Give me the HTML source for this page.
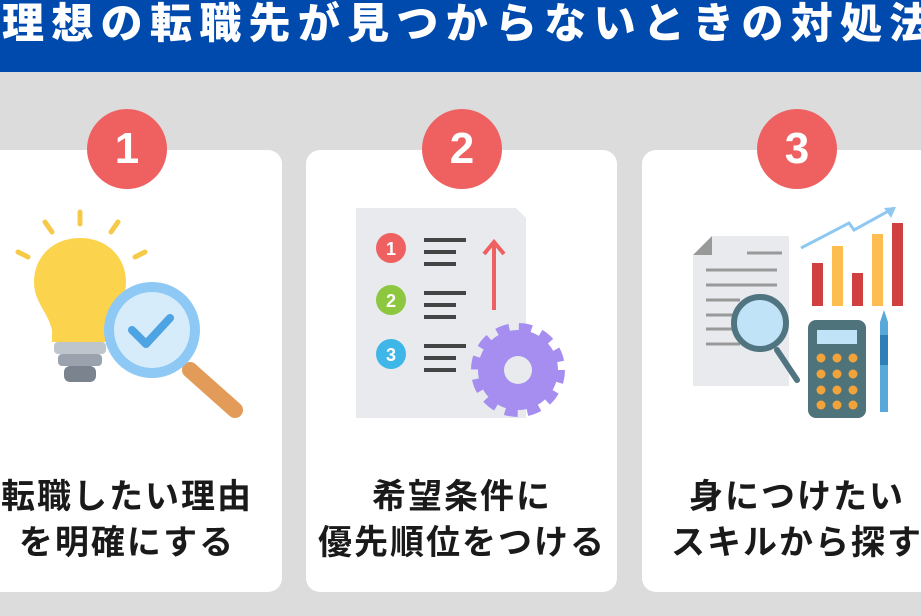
<!DOCTYPE html>
<html><head><meta charset="utf-8"><style>
body{margin:0;width:921px;height:616px;overflow:hidden;background:#dcdcdc;position:relative;font-family:"Liberation Sans","Noto Sans CJK JP",sans-serif}
.hd{position:absolute;left:0;top:0;width:921px;height:72px;background:#004aad}
.tt{position:absolute;left:2px;top:-6px;white-space:nowrap;color:#fff;font-weight:900;font-size:42px;letter-spacing:7.3px;line-height:60px}
.card{position:absolute;top:150px;height:442px;background:#fff;border-radius:14px}
.num{position:absolute;top:109px;width:80px;height:80px;border-radius:50%;background:#ef6061;color:#fff;font-weight:bold;font-size:44px;text-align:center;line-height:80px}
.lb{position:absolute;top:474px;width:360px;text-align:center;font-weight:bold;font-size:34px;line-height:46px;color:#1a1a1a;letter-spacing:2px;white-space:nowrap}
svg{position:absolute}
</style></head><body>
<div class="hd"><div class="tt">理想の転職先が見つからないときの対処法</div></div>
<div class="card" style="left:-20px;width:302px"></div>
<div class="card" style="left:306px;width:311px"></div>
<div class="card" style="left:642px;width:300px"></div>
<div class="num" style="left:87px">1</div>
<div class="num" style="left:422px">2</div>
<div class="num" style="left:757px">3</div>

<svg style="left:0;top:200px" width="282" height="230">
 <g stroke="#f7c948" stroke-width="5" stroke-linecap="round">
  <line x1="80" y1="12" x2="80" y2="24"/><line x1="45" y1="22" x2="52" y2="32"/><line x1="118" y1="22" x2="111" y2="32"/>
  <line x1="18" y1="52" x2="28" y2="57"/><line x1="145" y1="52" x2="135" y2="57"/></g>
 <path d="M80 38c-28 0-46 20-46 44 0 20 14 30 18 48v12h56v-12c4-18 18-28 18-48 0-24-18-44-46-44z" fill="#fcd34d"/>
 <rect x="54" y="142" width="52" height="12" rx="4" fill="#bfc5cc"/><rect x="58" y="154" width="44" height="12" rx="4" fill="#9aa3ad"/><rect x="64" y="166" width="32" height="16" rx="6" fill="#7b848e"/>
 <line x1="190" y1="170" x2="235" y2="210" stroke="#e39b5a" stroke-width="16" stroke-linecap="round"/>
 <circle cx="152" cy="130" r="48" fill="#8ec8f5"/><circle cx="152" cy="130" r="38" fill="#d6ecfb"/>
 <path d="M132 130l14 14 24-26" fill="none" stroke="#4ea3e3" stroke-width="8" stroke-linecap="round" stroke-linejoin="round"/>
</svg>

<svg style="left:306px;top:200px" width="311" height="230">
 <path d="M50 8h160l10 10v200H50z" fill="#e8eaee"/>
 <circle cx="85" cy="48" r="15" fill="#ef6061"/><circle cx="85" cy="100" r="15" fill="#8dc63f"/><circle cx="85" cy="154" r="15" fill="#3fb6e8"/>
 <g fill="#fff" font-weight="bold" font-size="18" text-anchor="middle" font-family="Liberation Sans"><text x="85" y="55">1</text><text x="85" y="107">2</text><text x="85" y="161">3</text></g>
 <g stroke="#444" stroke-width="4"><line x1="118" y1="40" x2="160" y2="40"/><line x1="118" y1="52" x2="150" y2="52"/><line x1="118" y1="64" x2="150" y2="64"/>
 <line x1="118" y1="93" x2="160" y2="93"/><line x1="118" y1="105" x2="150" y2="105"/><line x1="118" y1="117" x2="150" y2="117"/>
 <line x1="118" y1="146" x2="160" y2="146"/><line x1="118" y1="158" x2="150" y2="158"/><line x1="118" y1="170" x2="150" y2="170"/></g>
 <path d="M188 110V42m-10 12l10-12 10 12" stroke="#ef6061" stroke-width="4" fill="none"/>
 <circle cx="212" cy="170" r="40" fill="#a58ef0" stroke="#a58ef0" stroke-width="14" stroke-dasharray="12 9"/><circle cx="212" cy="170" r="14" fill="#e8eaee"/>
</svg>

<svg style="left:640px;top:200px" width="281" height="230">
 <path d="M72 36h77v150H53V55z" fill="#e8eaee"/><path d="M53 55l19-19v19z" fill="#999"/>
 <g stroke="#999" stroke-width="3"><line x1="107" y1="53" x2="142" y2="53"/><line x1="66" y1="70" x2="137" y2="70"/><line x1="66" y1="85" x2="137" y2="85"/><line x1="66" y1="100" x2="100" y2="100"/><line x1="66" y1="115" x2="100" y2="115"/><line x1="66" y1="129" x2="100" y2="129"/><line x1="66" y1="144" x2="100" y2="144"/></g>
 <line x1="137" y1="150" x2="157" y2="180" stroke="#507580" stroke-width="6" stroke-linecap="round"/>
 <circle cx="120" cy="123" r="26" fill="#c0e3f7" stroke="#507580" stroke-width="6"/>
 <path d="M161 48l48-25 5 7 40-22" stroke="#8ec8f0" stroke-width="3" fill="none"/><path d="M244 8l12-1-5 11z" fill="#8ec8f0"/>
 <rect x="172" y="63" width="11" height="43" fill="#d04040"/><rect x="192" y="46" width="11" height="60" fill="#fdbd50"/><rect x="212" y="73" width="11" height="33" fill="#d04040"/><rect x="232" y="34" width="11" height="72" fill="#fdbd50"/><rect x="252" y="23" width="11" height="83" fill="#d04040"/>
 <rect x="168" y="120" width="58" height="98" rx="8" fill="#4f737b"/><rect x="177" y="130" width="40" height="14" fill="#c0e3f7"/>
 <g fill="#f2a23a"><circle cx="181" cy="158" r="4.5"/><circle cx="197" cy="158" r="4.5"/><circle cx="213" cy="158" r="4.5"/><circle cx="181" cy="174" r="4.5"/><circle cx="197" cy="174" r="4.5"/><circle cx="213" cy="174" r="4.5"/><circle cx="181" cy="190" r="4.5"/><circle cx="197" cy="190" r="4.5"/><circle cx="213" cy="190" r="4.5"/><circle cx="181" cy="205" r="4.5"/><circle cx="197" cy="205" r="4.5"/><circle cx="213" cy="205" r="4.5"/></g>
 <path d="M240 122l4-12 4 12v90h-8z" fill="#58a8da"/><rect x="240" y="135" width="8" height="30" fill="#2e7fb8"/>
</svg>

<div class="lb" style="left:-53px">転職したい理由<br>を明確にする</div>
<div class="lb" style="left:282px">希望条件に<br>優先順位をつける</div>
<div class="lb" style="left:617px">身につけたい<br>スキルから探す</div>
</body></html>
